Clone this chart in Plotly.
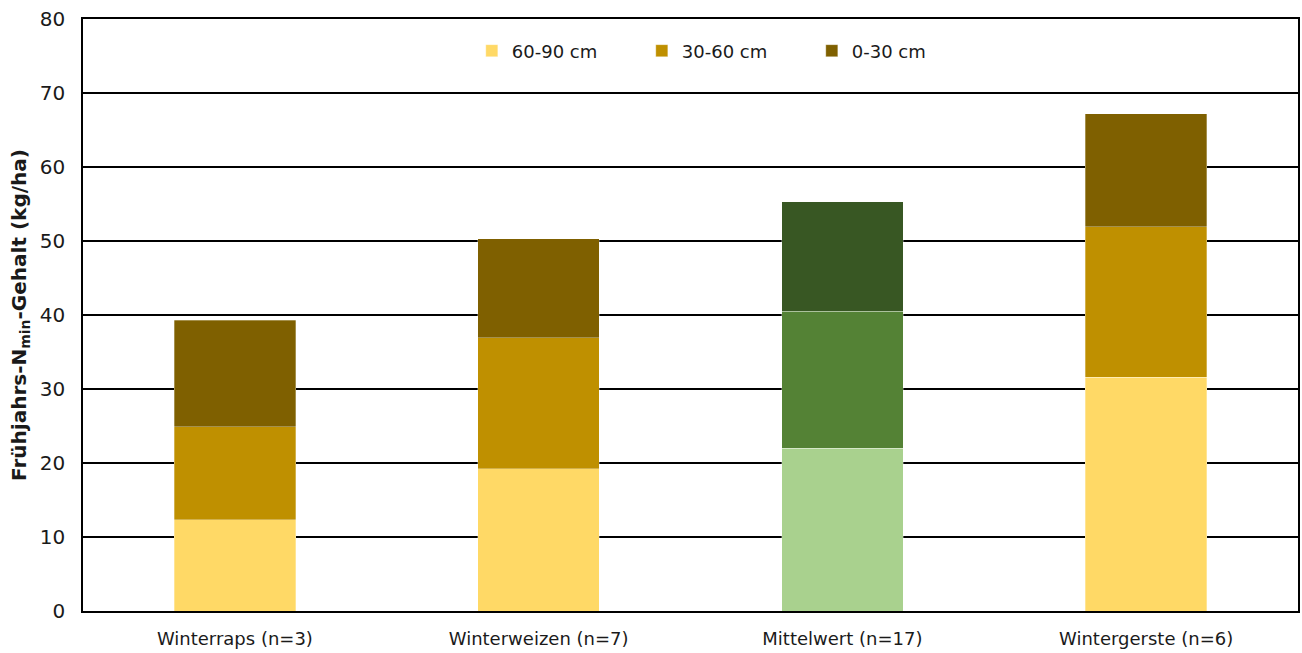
import plotly.graph_objects as go

categories = ["Winterraps (n=3)", "Winterweizen (n=7)", "Mittelwert (n=17)", "Wintergerste (n=6)"]
depth_60_90 = [12.3, 19.2, 22.0, 31.6]
depth_30_60 = [12.6, 17.7, 18.5, 20.3]
depth_0_30 = [14.4, 13.4, 14.8, 15.3]
series_names = ["60-90 cm", "30-60 cm", "0-30 cm"]

colors_60_90 = ["#FFD966", "#FFD966", "#A9D18E", "#FFD966"]
colors_30_60 = ["#BF9000", "#BF9000", "#548235", "#BF9000"]
colors_0_30 = ["#7F6000", "#7F6000", "#385723", "#7F6000"]

fig = go.Figure()
for name, vals, cols in zip(series_names,
                            [depth_60_90, depth_30_60, depth_0_30],
                            [colors_60_90, colors_30_60, colors_0_30]):
    fig.add_trace(go.Bar(
        x=categories, y=vals, name=name,
        marker=dict(color=cols, line=dict(color="rgba(255,255,255,0.5)", width=0.6)),
    ))

font_family = "DejaVu Sans, Verdana, sans-serif"
fig.update_layout(
    barmode="stack",
    bargap=0.6,
    width=1302, height=653,
    margin=dict(l=83, r=2, t=19, b=42),
    plot_bgcolor="white", paper_bgcolor="white",
    font=dict(family=font_family, size=16, color="#1a1a1a"),
    showlegend=True,
    legend=dict(orientation="h", x=0.32, xanchor="left", y=0.946, yanchor="middle",
                font=dict(size=18), traceorder="normal",
                itemwidth=30,
                entrywidth=125, entrywidthmode="pixels",
                bgcolor="rgba(0,0,0,0)"),
    yaxis=dict(range=[0, 80], dtick=10, showgrid=True, gridcolor="black", gridwidth=1.5,
               showline=True, linecolor="black", linewidth=1.5, mirror=True,
               zeroline=False, ticks="", tickfont=dict(size=20), ticklabelstandoff=12,
               title=dict(text="<b>Frühjahrs-N<sub>min</sub>-Gehalt (kg/ha)</b>",
                          font=dict(size=20), standoff=8)),
    xaxis=dict(showline=True, linecolor="black", linewidth=2, mirror=True,
               ticks="", tickfont=dict(size=18), ticklabelstandoff=10),
)

fig.write_html("out.html")
